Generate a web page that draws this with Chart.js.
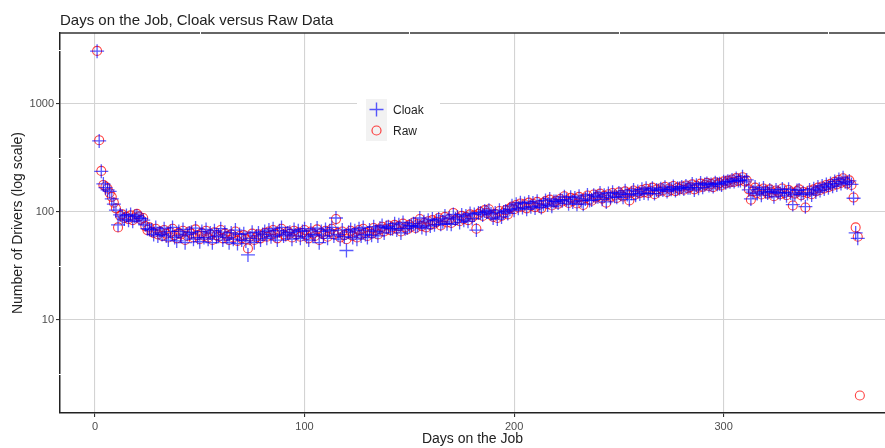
<!DOCTYPE html>
<html>
<head>
<meta charset="utf-8">
<script src="https://cdn.jsdelivr.net/npm/chart.js@4"></script>
<style>
  html, body { margin: 0; padding: 0; background: #fff; overflow: hidden; }
  canvas { display: block; }
</style>
</head>
<body>
<canvas id="chart" width="885" height="448"></canvas>
<script>
// drivers per day on the job, day 1 .. 365
const rawDrivers = [
  3100, 462, 240, 178, 172, 165, 150, 138, 122, 108,
  72, 92, 95, 88, 90, 86, 93, 84, 89, 96,
  91, 85, 88, 74, 68, 72, 66, 64, 70, 62,
  66, 60, 68, 63, 58, 65, 70, 61, 57, 64,
  62, 67, 55, 60, 66, 63, 58, 69, 61, 56,
  64, 60, 67, 58, 62, 55, 65, 61, 59, 68,
  57, 63, 60, 55, 62, 58, 66, 54, 60, 57,
  61, 56, 46, 59, 63, 55, 58, 62, 57, 60,
  64, 59, 66, 61, 68, 63, 57, 65, 70, 62,
  60, 66, 63, 58, 67, 62, 65, 59, 64, 68,
  61, 57, 66, 63, 60, 69, 55, 64, 62, 67,
  59, 65, 70, 62, 86, 64, 58, 66, 61, 56,
  63, 67, 60, 65, 58, 68, 62, 70, 64, 60,
  66, 63, 71, 68, 62, 69, 73, 66, 70, 75,
  68, 72, 76, 70, 74, 66, 78, 72, 69, 76,
  73, 80, 71, 77, 86, 74, 79, 72, 82, 76,
  84, 78, 81, 88, 75, 83, 90, 80, 86, 79,
  98, 84, 88, 82, 92, 86, 90, 84, 95, 89,
  93, 70, 96, 100, 92, 104, 98, 106, 94, 90,
  96, 88, 102, 92, 98, 104, 95, 108, 112, 106,
  116, 110, 120, 112, 118, 108, 122, 114, 119, 111,
  124, 116, 108, 121, 126, 118, 130, 115, 123, 127,
  119, 132, 125, 140, 128, 121, 135, 126, 133, 120,
  138, 129, 116, 134, 142, 130, 127, 145, 136, 140,
  148, 133, 141, 122, 146, 138, 150, 142, 135, 152,
  144, 139, 155, 147, 128, 151, 158, 145, 153, 149,
  160, 152, 164, 150, 157, 168, 146, 162, 155, 166,
  158, 171, 153, 165, 160, 174, 156, 168, 163, 172,
  161, 176, 166, 170, 180, 162, 175, 168, 183, 171,
  178, 186, 174, 182, 170, 188, 179, 185, 176, 192,
  184, 195, 188, 200, 190, 206, 194, 198, 210, 192,
  196, 162, 130, 155, 168, 150, 160, 145, 165, 156,
  148, 162, 152, 140, 158, 154, 146, 165, 150, 143,
  160, 152, 115, 148, 156, 162, 143, 153, 110, 150,
  158, 146, 162, 155, 168, 160, 172, 165, 178, 170,
  182, 175, 190, 180, 198, 186, 205, 192, 184, 196,
  178, 136, 72, 59, 2
];

const cloakDrivers = [
  3080, 455, 238, 182, 168, 160, 155, 132, 118, 104,
  76, 94, 90, 86, 93, 84, 95, 82, 91, 92,
  88, 87, 84, 76, 70, 69, 68, 62, 72, 60,
  64, 62, 70, 60, 55, 66, 72, 58, 54, 66,
  60, 69, 52, 62, 64, 65, 56, 71, 58, 53,
  66, 58, 69, 56, 64, 52, 67, 59, 61, 70,
  55, 65, 58, 52, 64, 56, 68, 51, 62, 55,
  63, 54, 40, 57, 65, 52, 60, 64, 55, 62,
  66, 57, 68, 59, 70, 61, 55, 67, 72, 60,
  62, 64, 65, 56, 69, 60, 67, 57, 66, 70,
  59, 55, 68, 61, 62, 71, 52, 66, 60, 69,
  57, 67, 72, 60, 88, 62, 56, 68, 59, 44,
  65, 69, 58, 67, 56, 70, 60, 72, 62, 58,
  68, 61, 73, 66, 60, 71, 75, 64, 72, 73,
  70, 70, 78, 68, 76, 64, 80, 70, 71, 74,
  75, 78, 73, 75, 88, 72, 81, 70, 84, 74,
  86, 76, 83, 86, 77, 81, 92, 78, 88, 77,
  95, 86, 90, 80, 94, 84, 92, 82, 97, 87,
  95, 68, 98, 98, 94, 102, 100, 104, 96, 88,
  98, 86, 104, 90, 100, 102, 97, 106, 114, 104,
  118, 108, 122, 110, 120, 106, 124, 112, 121, 109,
  126, 114, 110, 119, 128, 116, 132, 113, 125, 125,
  121, 130, 127, 138, 130, 119, 137, 124, 135, 118,
  140, 127, 118, 132, 144, 128, 129, 143, 138, 138,
  150, 131, 143, 124, 148, 136, 152, 140, 137, 150,
  146, 137, 157, 145, 130, 149, 160, 143, 155, 147,
  162, 150, 166, 148, 159, 166, 148, 160, 157, 164,
  160, 169, 155, 163, 162, 172, 158, 166, 165, 170,
  163, 174, 168, 168, 182, 160, 177, 166, 185, 169,
  180, 184, 176, 180, 172, 186, 181, 183, 178, 190,
  186, 193, 190, 198, 192, 204, 196, 196, 212, 190,
  198, 160, 132, 153, 170, 148, 162, 143, 167, 154,
  150, 160, 154, 138, 160, 152, 148, 163, 152, 141,
  162, 150, 117, 146, 158, 160, 145, 151, 112, 148,
  160, 144, 164, 153, 170, 158, 174, 163, 180, 168,
  184, 173, 192, 178, 200, 184, 207, 190, 186, 194,
  180, 134, 64, 57, null
];

const xTicks = [0, 100, 200, 300];
const yTicks = [10, 100, 1000];
const xMinor = [50, 150, 250, 350];
const yMinor = [Math.sqrt(10), Math.sqrt(1000), Math.sqrt(100000), Math.sqrt(10000000)];

const seriesNames = ['Cloak', 'Raw'];

function toPoints(values) {
  return values.map((v, i) => ({ x: i + 1, y: v }));
}

const FONT = '"Liberation Sans", Arial, sans-serif';
const CLOAK_COLOR = 'rgba(0, 0, 255, 0.65)';
const RAW_COLOR = 'rgba(255, 0, 0, 0.75)';

// top border, title and an in-panel legend like ggplot's
const decorPlugin = {
  id: 'decor',
  afterDraw(chart) {
    const ctx = chart.ctx;
    const area = chart.chartArea;
    const xs = chart.scales.x, ys = chart.scales.y;
    ctx.save();

    ctx.strokeStyle = '#333';
    ctx.lineWidth = 1.3;
    ctx.beginPath();
    ctx.moveTo(area.left, area.top);
    ctx.lineTo(area.right, area.top);
    ctx.stroke();

    // white minor grid lines cut small gaps into the frame
    ctx.strokeStyle = '#fff';
    ctx.lineWidth = 1;
    ctx.beginPath();
    xMinor.forEach(v => {
      const px = Math.round(xs.getPixelForValue(v)) + 0.5;
      ctx.moveTo(px, area.top - 1.5); ctx.lineTo(px, area.top + 1.5);
    });
    yMinor.forEach(v => {
      if (v < ys.min || v > ys.max) return;
      const py = Math.round(ys.getPixelForValue(v)) + 0.5;
      ctx.moveTo(area.left - 1.5, py); ctx.lineTo(area.left + 1.5, py);
    });
    ctx.stroke();

    ctx.fillStyle = '#222';
    ctx.font = '15px ' + FONT;
    ctx.textBaseline = 'alphabetic';
    ctx.fillText('Days on the Job, Cloak versus Raw Data', 60, 25);

    // legend
    const lx = 357, ly = 92;
    ctx.fillStyle = '#fff';
    ctx.fillRect(lx, ly, 83, 60);
    const keyX = 366, keyW = 21, keyH = 21;
    const keys = [ly + 7, ly + 28];
    keys.forEach((ky, i) => {
      ctx.fillStyle = '#f2f2f2';
      ctx.fillRect(keyX, ky, keyW, keyH);
      const cx = keyX + keyW / 2, cy = ky + keyH / 2;
      if (i === 0) {
        ctx.strokeStyle = CLOAK_COLOR;
        ctx.lineWidth = 1.4;
        ctx.beginPath();
        ctx.moveTo(cx - 7, cy); ctx.lineTo(cx + 7, cy);
        ctx.moveTo(cx, cy - 7); ctx.lineTo(cx, cy + 7);
        ctx.stroke();
      } else {
        ctx.strokeStyle = RAW_COLOR;
        ctx.lineWidth = 1.2;
        ctx.beginPath();
        ctx.arc(cx, cy, 4.5, 0, Math.PI * 2);
        ctx.stroke();
      }
      ctx.fillStyle = '#222';
      ctx.font = '12px ' + FONT;
      ctx.textBaseline = 'middle';
      ctx.fillText(seriesNames[i], 393, cy + 1);
    });
    ctx.restore();
  }
};

const config = {
  type: 'scatter',
  data: {
    datasets: [
      {
        label: seriesNames[0],
        data: toPoints(cloakDrivers),
        pointStyle: 'cross',
        pointRadius: 7,
        pointBorderWidth: 1.3,
        borderColor: CLOAK_COLOR,
        backgroundColor: CLOAK_COLOR
      },
      {
        label: seriesNames[1],
        data: toPoints(rawDrivers),
        pointStyle: 'circle',
        pointRadius: 4.5,
        pointBorderWidth: 1.1,
        borderColor: RAW_COLOR,
        backgroundColor: 'rgba(0,0,0,0)'
      }
    ]
  },
  options: {
    responsive: false,
    animation: false,
    devicePixelRatio: 1,
    layout: { autoPadding: false, padding: { top: 33, right: 0, left: 10, bottom: 0 } },
    plugins: {
      legend: { display: false },
      title: { display: false },
      tooltip: { enabled: false }
    },
    scales: {
      x: {
        type: 'linear',
        min: -16.7,
        max: 377,
        afterBuildTicks(axis) { axis.ticks = xTicks.map(v => ({ value: v })); },
        afterFit(axis) {
          axis.height = 35;
          axis.paddingLeft = 0;
          axis.paddingRight = 0;
        },
        grid: {
          color: '#d3d3d3',
          lineWidth: 1.1,
          tickColor: '#333',
          tickLength: 4
        },
        border: { display: true, color: '#222', width: 1.5 },
        ticks: {
          color: '#4d4d4d',
          font: { family: FONT, size: 11 },
          padding: 3
        },
        title: {
          display: true,
          text: 'Days on the Job',
          color: '#222',
          font: { family: FONT, size: 14 },
          padding: { top: 0, bottom: 0 }
        }
      },
      y: {
        type: 'logarithmic',
        min: 1.377,
        max: 4540,
        afterBuildTicks(axis) { axis.ticks = yTicks.map(v => ({ value: v })); },
        afterFit(axis) { axis.width = 50; },
        grid: {
          color: '#d3d3d3',
          lineWidth: 1.1,
          tickColor: '#333',
          tickLength: 4
        },
        border: { display: true, color: '#222', width: 1.5 },
        ticks: {
          color: '#4d4d4d',
          font: { family: FONT, size: 11 },
          padding: 2,
          callback: v => String(v)
        },
        title: {
          display: true,
          text: 'Number of Drivers (log scale)',
          color: '#222',
          font: { family: FONT, size: 14 },
          padding: { top: 0, bottom: 0 }
        }
      }
    }
  },
  plugins: [decorPlugin]
};

const ctx = document.getElementById('chart').getContext('2d');
const chart = new Chart(ctx, config);
</script>
</body>
</html>
